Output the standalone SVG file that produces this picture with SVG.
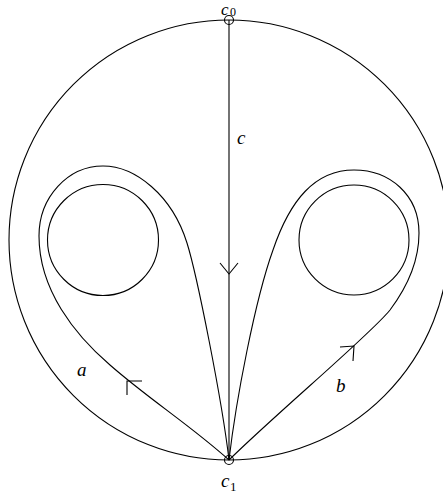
<svg xmlns="http://www.w3.org/2000/svg" width="443" height="501" viewBox="0 0 443 501">
<style>
.ln{fill:none;stroke:#000;stroke-width:1.1}
.lb{font-family:"Liberation Serif",serif;font-style:italic;fill:#000}
.big{font-size:19px}
.sub{font-size:13px;font-style:normal}
.top{font-size:17px}
.topsub{font-size:12px;font-style:normal}
</style>
<rect width="443" height="501" fill="#fff"/>
<g id="outer"><circle class="ln" cx="229" cy="240" r="220"/></g>
<g id="hole-left"><circle class="ln" cx="103" cy="240" r="55.5"/></g>
<g id="hole-right"><circle class="ln" cx="354" cy="240" r="55"/></g>
<g id="connectors">
<path id="c" class="ln" d="M229,20 L229,460"/>
<path class="ln" d="M220,263 L229,274 L238,263"/>
<path id="a" class="ln" d="M229,460 C190,425 150,400 110,365 C75,335 39,290 39,236 C39,197 68,166 103,166 C135,166 172,195 187,243 C197,275 222,400 229,460"/>
<path class="ln" d="M142,381 L127,381 L127,395"/>
<path id="b" class="ln" d="M229,460 C236,400 255,300 273,250 C290,200 315,170 354,170 C390,170 419,195 419,233 C419,265 405,290 390,310 C370,335 280,410 229,460"/>
<path class="ln" d="M340,347 L354,346 L353,361"/>
</g>
<g id="c0"><circle class="ln" cx="229" cy="20" r="4.5"/><text class="lb top" x="221" y="15">c</text><text class="lb topsub" x="230" y="16">0</text></g>
<g id="c1"><circle class="ln" cx="229" cy="460" r="4.5"/><text class="lb big" x="221" y="487">c</text><text class="lb sub" x="230" y="491">1</text></g>
<g id="labels">
<text class="lb big" x="237" y="144">c</text>
<text class="lb big" x="77" y="376">a</text>
<text class="lb big" x="336" y="392">b</text>
</g>
</svg>
